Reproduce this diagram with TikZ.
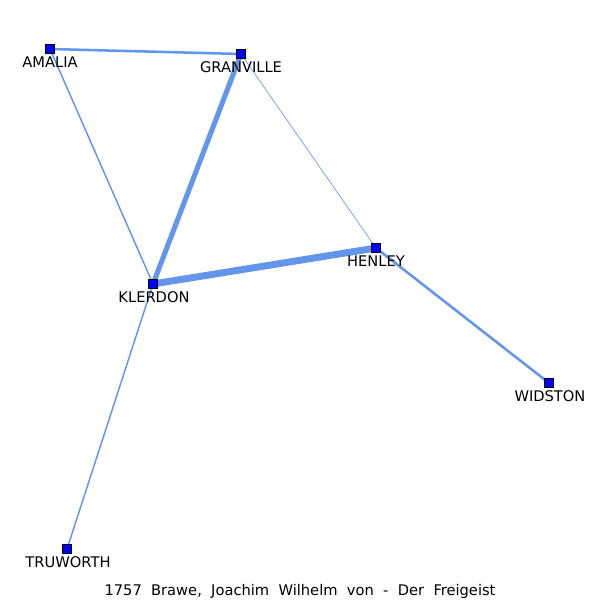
\documentclass[tikz,border=0pt]{standalone}
\usepackage{fontspec}
\setmainfont{DejaVu Sans}
\usetikzlibrary{calc}
\definecolor{edgeblue}{RGB}{100,149,237}
\tikzset{person/.style={draw=black,fill=blue,minimum size=6.5pt,inner sep=0pt,line width=0.6pt},
	plabel/.style={font=\fontsize{11}{13}\selectfont,inner sep=0pt},
	link/.style={draw=edgeblue}}

\begin{document}
\begin{tikzpicture}[x=0.75pt,y=-0.75pt]
		\useasboundingbox (0,0) rectangle (600,600);
		\coordinate (Pa) at (50,49);
		\coordinate (Pg) at (241,54);
		\coordinate (Ph) at (376,248);
		\coordinate (Pk) at (153,284);
		\coordinate (Pw) at (549,383);
		\coordinate (Pt) at (67,549);
		\draw[link,line width=1.9pt] (Pa)--(Pg);
		\draw[link,line width=1.1pt] (Pa)--(Pk);
		\draw[link,line width=3.8pt] (Pg)--(Pk);
		\draw[link,line width=0.5pt] (Pg)--(Ph);
		\draw[link,line width=5.2pt] (Pk)--(Ph);
		\draw[link,line width=1.9pt] (Ph)--(Pw);
		\draw[link,line width=1.1pt] (Pk)--(Pt);
		\node[person] (amalia) at (Pa) {};
		\node[person] (granville) at (Pg) {};
		\node[person] (henley) at (Ph) {};
		\node[person] (klerdon) at (Pk) {};
		\node[person] (widston) at (Pw) {};
		\node[person] (truworth) at (Pt) {};
		\node[plabel] at ($(Pa)+(0,13.5)$) {AMALIA};
		\node[plabel] at ($(Pg)+(0,13.5)$) {GRANVILLE};
		\node[plabel] at ($(Ph)+(0,13.5)$) {HENLEY};
		\node[plabel] at ($(Pk)+(1,13.5)$) {KLERDON};
		\node[plabel] at ($(Pw)+(1,13.5)$) {WIDSTON};
		\node[plabel] at ($(Pt)+(1,13.5)$) {TRUWORTH};
		\node[plabel] (title) at (300,591) {1757\ \ Brawe,\ \ Joachim\ \ Wilhelm\ \ von\ \ -\ \ Der\ \ Freigeist};
	\end{tikzpicture}
\end{document}
